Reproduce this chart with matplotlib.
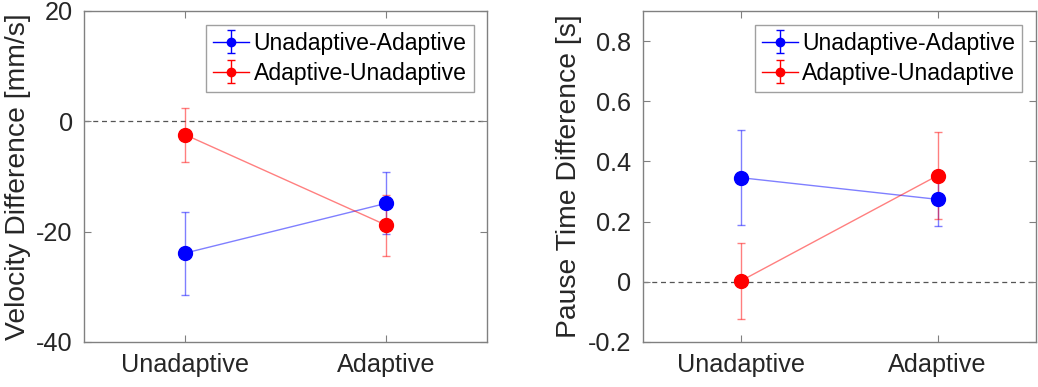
import matplotlib
matplotlib.use("Agg")
import matplotlib.pyplot as plt
import numpy as np

plt.rcParams['font.family'] = ['Liberation Sans', 'DejaVu Sans']

categories = ["Unadaptive", "Adaptive"]
series_names = ["Unadaptive-Adaptive", "Adaptive-Unadaptive"]

vel_ua = [-23.9, -14.85]
vel_ua_err = [7.5, 5.6]
vel_au = [-2.4, -18.85]
vel_au_err = [4.9, 5.5]

pause_ua = [0.346, 0.274]
pause_ua_err = [0.157, 0.09]
pause_au = [0.003, 0.353]
pause_au_err = [0.125, 0.144]

fig = plt.figure(figsize=(10.38, 3.87), dpi=100)
ax1 = fig.add_axes([0.0809, 0.1163, 0.3886, 0.8553])
ax2 = fig.add_axes([0.619, 0.1163, 0.379, 0.8553])

xpos = np.arange(1, len(categories) + 1)
edge = '#808080'

def draw(ax, ua, ua_err, au, au_err, ylim, yticks, yticklabels, ylabel):
    ax.axhline(0, color='#555555', ls=(0, (4, 3)), lw=0.9, zorder=1)
    for vals, errs, col in [(ua, ua_err, 'blue'), (au, au_err, 'red')]:
        ax.errorbar(xpos, vals, yerr=errs, color=col, alpha=0.5, lw=1.0,
                    capsize=3, elinewidth=1.0, zorder=2)
        ax.plot(xpos, vals, 'o', color=col, ms=10, zorder=3)
    handles = []
    for col, lab in [('blue', series_names[0]), ('red', series_names[1])]:
        h = ax.errorbar([np.nan], [np.nan], yerr=[1], color=col, lw=1.0,
                        capsize=3, marker='o', ms=6, label=lab)
        handles.append(h)
    leg = ax.legend(handles=handles, loc='upper right', fontsize=16.6,
                    frameon=True, fancybox=False, edgecolor='#888888',
                    borderaxespad=0.6, handlelength=1.55, handletextpad=0.2,
                    borderpad=0.3, labelspacing=0.3)
    leg.get_frame().set_linewidth(1.0)
    ax.set_xlim(0.5, 2.5)
    ax.set_ylim(*ylim)
    ax.set_xticks(xpos)
    ax.set_xticklabels(categories)
    ax.set_yticks(yticks)
    ax.set_yticklabels(yticklabels)
    ax.set_ylabel(ylabel, fontsize=20.3, labelpad=4)
    ax.tick_params(direction='in', top=True, right=True, labelsize=18.2,
                   length=5, color=edge, labelcolor='#262626', pad=8)
    ax.yaxis.label.set_color('#262626')
    for s in ax.spines.values():
        s.set_color(edge)
        s.set_linewidth(1.0)

draw(ax1, vel_ua, vel_ua_err, vel_au, vel_au_err, (-40, 20),
     [-40, -20, 0, 20], ['-40', '-20', '0', '20'], 'Velocity Difference [mm/s]')
draw(ax2, pause_ua, pause_ua_err, pause_au, pause_au_err, (-0.2, 0.9),
     [-0.2, 0, 0.2, 0.4, 0.6, 0.8], ['-0.2', '0', '0.2', '0.4', '0.6', '0.8'],
     'Pause Time Difference [s]')

fig.savefig('out.png', dpi=100)
